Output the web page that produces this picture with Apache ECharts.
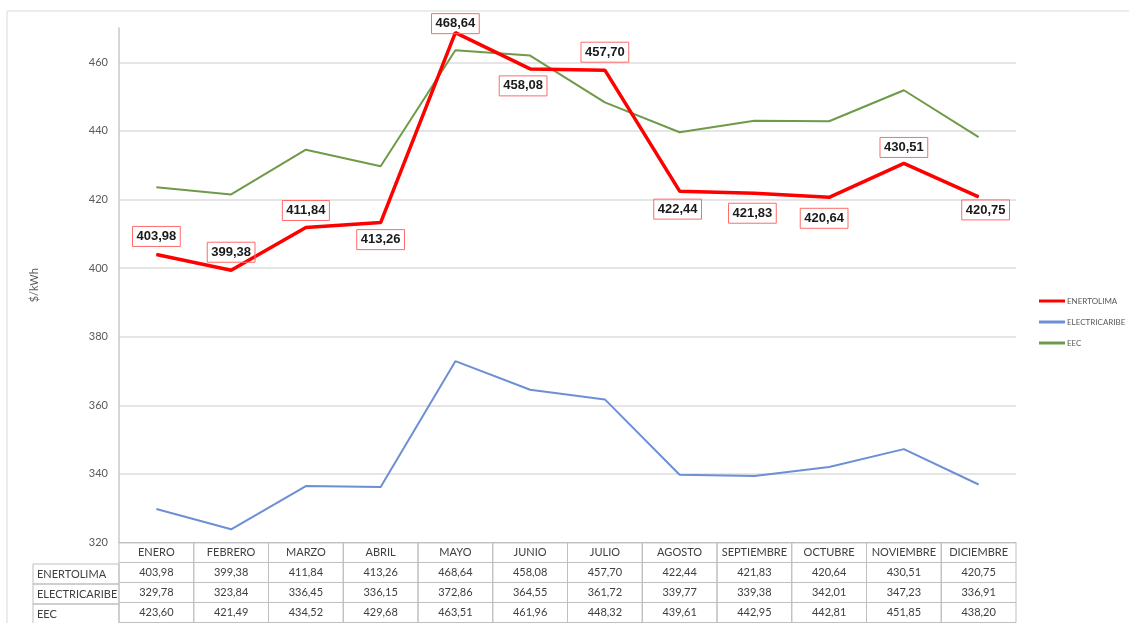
<!DOCTYPE html>
<html>
<head>
<meta charset="utf-8">
<script src="https://cdn.jsdelivr.net/npm/echarts@6/dist/echarts.min.js"></script>
<style>
  html, body { margin: 0; padding: 0; background: #ffffff; }
  #chart { width: 1129px; height: 623px; }
</style>
</head>
<body>
<div id="chart"></div>
<script>
// datos del grafico
const months = ["ENERO", "FEBRERO", "MARZO", "ABRIL", "MAYO", "JUNIO", "JULIO", "AGOSTO", "SEPTIEMBRE", "OCTUBRE", "NOVIEMBRE", "DICIEMBRE"];
const seriesNames = ["ENERTOLIMA", "ELECTRICARIBE", "EEC"];
const enertolima = [403.98, 399.38, 411.84, 413.26, 468.64, 458.08, 457.70, 422.44, 421.83, 420.64, 430.51, 420.75];
const electricaribe = [329.78, 323.84, 336.45, 336.15, 372.86, 364.55, 361.72, 339.77, 339.38, 342.01, 347.23, 336.91];
const eec = [423.60, 421.49, 434.52, 429.68, 463.51, 461.96, 448.32, 439.61, 442.95, 442.81, 451.85, 438.20];
const yTicks = [320, 340, 360, 380, 400, 420, 440, 460];

// desplazamiento de las etiquetas (px) respecto al punto
const labelShift = [[0, -18], [0, -18], [0, -17], [0, 17], [0, -9], [-7, 17], [0, -18], [-2, 18], [-2, 20], [-5, 21], [0, -16], [7, 13]];

const colors = ["#ff0000", "#6d8fd5", "#6e9a4a"];
const fmt = v => v.toFixed(2).replace(".", ",");

const plotLeft = 119, plotRight = 1016, plotTop = 28, plotBottom = 544;
const colW = (plotRight - plotLeft) / months.length;
const rowH = 20;

const chart = echarts.init(document.getElementById("chart"));

// columna de nombres de la tabla
const rowHeaders = [];
seriesNames.forEach((name, i) => {
  rowHeaders.push({
    type: "rect",
    shape: { x: 33, y: plotBottom + rowH * (i + 1), width: plotLeft - 33, height: rowH },
    style: { fill: "none", stroke: "#bfbfbf", lineWidth: 1 }
  });
  rowHeaders.push({
    type: "text",
    x: 37,
    y: plotBottom + rowH * (i + 1) + rowH / 2,
    style: { text: name, font: "11px Lato", fill: "#404040", textVerticalAlign: "middle" }
  });
});

const option = {
  animation: false,
  textStyle: { fontFamily: "Lato" },
  graphic: [
    {
      type: "rect",
      shape: { x: 7, y: 11, width: 1300, height: 800 },
      style: { fill: "none", stroke: "#d9d9d9", lineWidth: 1 },
      z: -1
    }
  ].concat(rowHeaders),
  legend: {
    orient: "vertical",
    left: 1034,
    top: 292,
    icon: "rect",
    itemWidth: 26,
    itemHeight: 3,
    itemGap: 13,
    data: seriesNames,
    textStyle: { fontSize: 8, color: "#595959", padding: [0, 0, 0, -3] }
  },
  grid: {
    left: plotLeft,
    right: 1129 - plotRight,
    top: plotTop,
    bottom: 623 - plotBottom
  },
  xAxis: {
    type: "category",
    data: months,
    boundaryGap: true,
    axisTick: { show: false },
    axisLine: { show: true, lineStyle: { color: "#bfbfbf", width: 1 } },
    axisLabel: {
      interval: 0,
      margin: 0,
      formatter: (value, idx) =>
        "{h|" + value + "}\n{c|" + fmt(enertolima[idx]) + "}\n{c|" + fmt(electricaribe[idx]) + "}\n{c|" + fmt(eec[idx]) + "}",
      rich: {
        h: { width: colW, height: rowH, lineHeight: rowH, align: "center", fontSize: 11, color: "#404040", fontFamily: "Lato", borderColor: "#bfbfbf", borderWidth: 1 },
        c: { width: colW, height: rowH, lineHeight: rowH, align: "center", fontSize: 11, color: "#404040", fontFamily: "Lato", borderColor: "#bfbfbf", borderWidth: 1 }
      }
    }
  },
  yAxis: {
    type: "value",
    min: yTicks[0],
    max: 470,
    interval: 20,
    name: "$/kWh",
    nameLocation: "middle",
    nameRotate: 90,
    nameGap: 79,
    nameTextStyle: { fontSize: 11, color: "#595959", fontFamily: "Lato" },
    axisLine: { show: true, lineStyle: { color: "#c8c8c8", width: 1.5 } },
    axisTick: { show: false },
    axisLabel: { showMaxLabel: false, fontSize: 11, color: "#595959", margin: 11, fontFamily: "Lato" },
    splitLine: { showMaxLine: false, lineStyle: { color: "#dcdcdc", width: 1.5 } }
  },
  series: [
    {
      name: seriesNames[1],
      type: "line",
      data: electricaribe,
      symbol: "none",
      lineStyle: { color: colors[1], width: 2 },
      itemStyle: { color: colors[1] },
      z: 2
    },
    {
      name: seriesNames[2],
      type: "line",
      data: eec,
      symbol: "none",
      lineStyle: { color: colors[2], width: 2 },
      itemStyle: { color: colors[2] },
      z: 2
    },
    {
      name: seriesNames[0],
      type: "line",
      data: enertolima.map((v, i) => ({
        value: v,
        label: { offset: labelShift[i] }
      })),
      symbol: "circle",
      symbolSize: 1,
      lineStyle: { color: colors[0], width: 3.5 },
      itemStyle: { color: colors[0] },
      z: 3,
      label: {
        show: true,
        position: "inside",
        formatter: p => fmt(p.value),
        fontFamily: "Liberation Sans",
        fontWeight: "bold",
        fontSize: 13,
        color: "#1a1a1a",
        borderColor: "#ff6b6b",
        borderWidth: 1,
        padding: [4, 4, 3, 4]
      },
      emphasis: { disabled: true }
    }
  ]
};

chart.setOption(option);
</script>
</body>
</html>
